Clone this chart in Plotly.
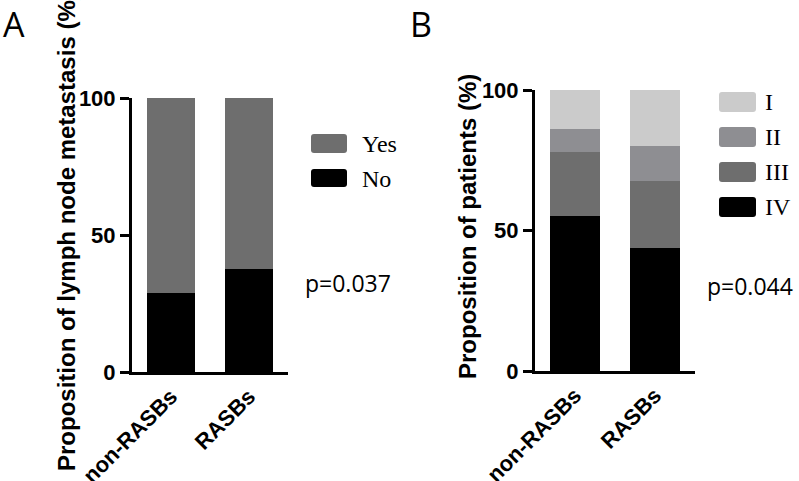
import plotly.graph_objects as go

# ---------------- data ----------------
categories = ["non-RASBs", "RASBs"]

# Panel A: lymph node metastasis (%)
lnm_no = [28.8, 37.6]
lnm_yes = [71.2, 62.4]

# Panel B: stage distribution (%)
stage_iv = [55.3, 43.8]
stage_iii = [22.6, 23.8]
stage_ii = [8.2, 12.5]
stage_i = [13.9, 19.9]

y_ticks = [0, 50, 100]
p_text_a = "p=0.037"
p_text_b = "p=0.044"

# ---------------- styling ----------------
W, H = 799, 481
C_I = "#cbcbcb"
C_II = "#8e8e92"
C_III = "#6e6e6e"
C_IV = "#000000"
C_YES = "#6e6e6e"
C_NO = "#000000"

SANS_B = "Arial, Liberation Sans, sans-serif"
SERIF = "Times New Roman, Liberation Serif, serif"
SANS_R = "Open Sans, Noto Sans, sans-serif"


def px(x):
    return x / W


def py(y):
    return (H - y) / H


fig = go.Figure()

# Panel A bars
fig.add_trace(go.Bar(x=categories, y=lnm_no, marker_color=C_NO, width=0.62,
                     xaxis="x", yaxis="y", name="No", showlegend=False,
                     marker_line_width=0))
fig.add_trace(go.Bar(x=categories, y=lnm_yes, marker_color=C_YES, width=0.62,
                     xaxis="x", yaxis="y", name="Yes", showlegend=False,
                     marker_line_width=0))

# Panel B bars
for vals, col, nm in [(stage_iv, C_IV, "IV"), (stage_iii, C_III, "III"),
                      (stage_ii, C_II, "II"), (stage_i, C_I, "I")]:
    fig.add_trace(go.Bar(x=categories, y=vals, marker_color=col, width=0.625,
                         xaxis="x2", yaxis="y2", name=nm, showlegend=False,
                         marker_line_width=0))

yaxis_common = dict(range=[0, 100], tickvals=y_ticks, ticks="outside",
                    ticklen=9, tickwidth=3, tickcolor="black",
                    showline=True, linewidth=3, linecolor="black",
                    showgrid=False, zeroline=False, automargin=False,
                    tickfont=dict(family=SANS_B, size=22, color="black", weight="bold"))
xaxis_common = dict(showline=True, linewidth=3, linecolor="black",
                    ticks="", tickangle=-45, showgrid=False, zeroline=False,
                    range=[-0.5, 1.5], automargin=False,
                    tickfont=dict(family=SANS_B, size=22, color="black", weight="bold"))

fig.update_layout(
    width=W, height=H,
    margin=dict(l=0, r=0, t=0, b=0, autoexpand=False),
    paper_bgcolor="white", plot_bgcolor="white",
    barmode="stack", bargap=0,
    showlegend=False,
    xaxis=dict(domain=[px(132), px(288)], anchor="y", **xaxis_common),
    yaxis=dict(domain=[py(372), py(98)], anchor="x", **yaxis_common),
    xaxis2=dict(domain=[px(535), px(695)], anchor="y2", **xaxis_common),
    yaxis2=dict(domain=[py(371), py(90)], anchor="x2", **yaxis_common),
)

shapes = []
annotations = []


def rbox(x0, y0, x1, y1, color, r=3):
    X0, X1 = px(x0), px(x1)
    Y0, Y1 = py(y1), py(y0)
    rx, ry = r / W, r / H
    path = (f"M {X0+rx},{Y0} L {X1-rx},{Y0} Q {X1},{Y0} {X1},{Y0+ry} "
            f"L {X1},{Y1-ry} Q {X1},{Y1} {X1-rx},{Y1} L {X0+rx},{Y1} "
            f"Q {X0},{Y1} {X0},{Y1-ry} L {X0},{Y0+ry} Q {X0},{Y0} {X0+rx},{Y0} Z")
    shapes.append(dict(type="path", path=path, xref="paper", yref="paper",
                       fillcolor=color, line=dict(width=0)))


def text(x, y, s, font, xanchor="left", yanchor="middle", angle=0):
    annotations.append(dict(x=px(x), y=py(y), xref="paper", yref="paper",
                            text=s, showarrow=False, xanchor=xanchor,
                            yanchor=yanchor, textangle=angle, font=font))


# Legend A
rbox(311, 134, 347, 153, C_YES)
rbox(311, 169, 347, 187, C_NO)
leg_font = dict(family=SERIF, size=24, color="black")
text(360, 144, "Yes", leg_font)
text(360, 179, "No", leg_font)

# Legend B
for (y0, y1), col, lab in zip([(92, 112), (127, 147), (162, 182), (197, 217)],
                              [C_I, C_II, C_III, C_IV],
                              ["I", "II", "III", "IV"]):
    rbox(719, y0, 756, y1, col)
    text(763, (y0 + y1) / 2, lab, leg_font)

# p-values
p_font = dict(family=SANS_R, size=23, color="black")
text(303, 283, p_text_a, p_font)
text(705, 286, p_text_b, p_font)

# panel letters
letter_font = dict(family=SANS_R, size=34, color="black")
text(1, 24, "A", letter_font)
text(408, 24, "B", letter_font)

# y axis titles
title_font = dict(family=SANS_B, size=24, color="black", weight="bold")
text(66, 232, "Proposition of lymph node metastasis (%)", title_font,
     xanchor="center", yanchor="middle", angle=-90)
text(467, 227, "Proposition of patients (%)", title_font,
     xanchor="center", yanchor="middle", angle=-90)

fig.update_layout(shapes=shapes, annotations=annotations)

fig.write_html("out.html",
               config={"displayModeBar": False},
               post_script="document.body.style.margin='0';document.body.style.overflow='hidden';")
